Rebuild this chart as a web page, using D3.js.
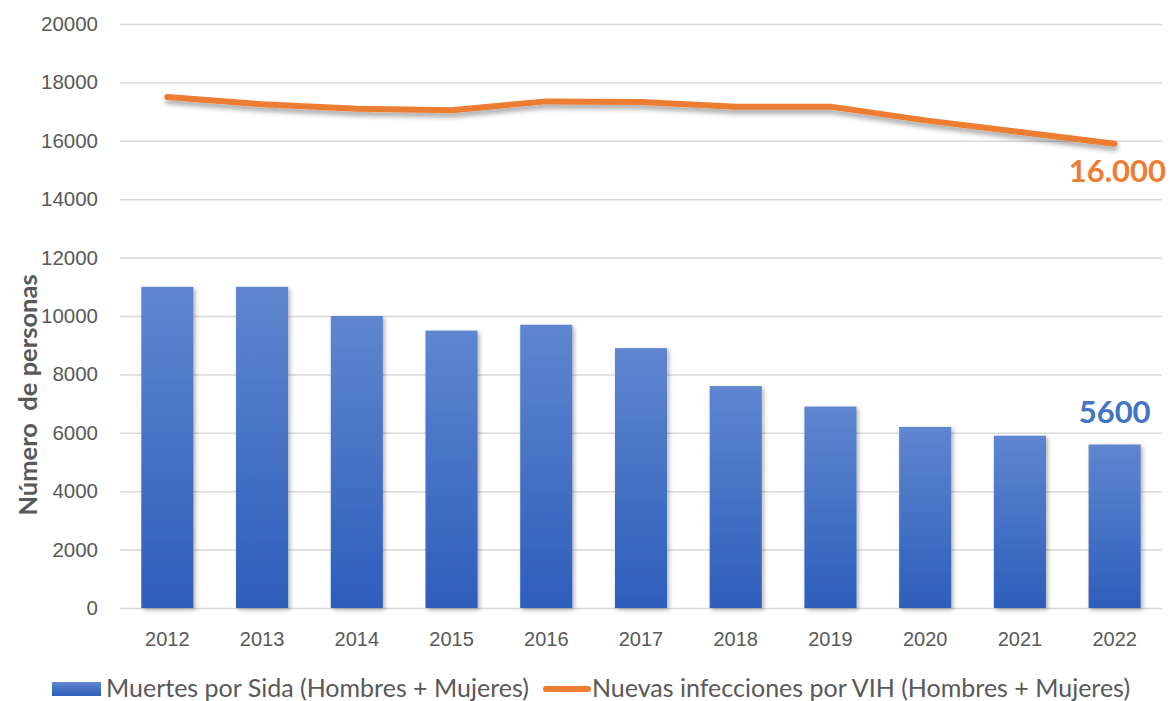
<!DOCTYPE html>
<html>
<head>
<meta charset="utf-8">
<script src="https://cdn.jsdelivr.net/npm/d3@7"></script>
<style>
  body { margin: 0; background: #fff; overflow: hidden; }
  svg { display: block; font-family: Lato, "Open Sans", sans-serif; }
</style>
</head>
<body>
<svg id="canvas" width="1171" height="701"></svg>
<script>
// data
var years = ['2012', '2013', '2014', '2015', '2016', '2017', '2018', '2019', '2020', '2021', '2022'];
var deaths = [11000, 11000, 10000, 9500, 9700, 8900, 7600, 6900, 6200, 5900, 5600];
var infections = [17500, 17250, 17100, 17050, 17350, 17330, 17170, 17170, 16700, 16300, 15900];
var yTicks = [0, 2000, 4000, 6000, 8000, 10000, 12000, 14000, 16000, 18000, 20000];
var deathsName = 'Muertes por Sida (Hombres + Mujeres)';
var infectName = 'Nuevas infecciones por VIH (Hombres + Mujeres)';
var deathsLabel = '5600';
var infectLabel = '16.000';

var svg = d3.select('#canvas');
var margin = { left: 120, top: 24, right: 9, bottom: 93 };
var width = 1171, height = 701;
var innerWidth = width - margin.left - margin.right;
var innerHeight = height - margin.top - margin.bottom;

var x = d3.scaleBand().domain(years).range([0, innerWidth]).paddingInner(0.45).paddingOuter(0.225);
var y = d3.scaleLinear().domain([0, 20000]).range([innerHeight, 0]);

var defs = svg.append('defs');
var grad = defs.append('linearGradient').attr('id', 'barGrad')
  .attr('x1', 0).attr('y1', 0).attr('x2', 0).attr('y2', 1);
grad.append('stop').attr('offset', '0%').attr('stop-color', '#5f86cf');
grad.append('stop').attr('offset', '100%').attr('stop-color', '#2d5ebb');

var shadow = defs.append('filter').attr('id', 'shadow')
  .attr('x', '-20%').attr('y', '-20%').attr('width', '140%').attr('height', '140%');
shadow.append('feDropShadow').attr('dx', 2).attr('dy', 2).attr('stdDeviation', 2)
  .attr('flood-color', '#000').attr('flood-opacity', 0.3);

var lineShadow = defs.append('filter').attr('id', 'lineShadow')
  .attr('x', '-5%').attr('y', '-50%').attr('width', '110%').attr('height', '200%');
lineShadow.append('feDropShadow').attr('dx', 1).attr('dy', 4).attr('stdDeviation', 2.5)
  .attr('flood-color', '#000').attr('flood-opacity', 0.35);

var g = svg.append('g').attr('transform', 'translate(' + margin.left + ',' + margin.top + ')');

// grid (no labels, so drop the empty tick texts)
g.append('g').attr('class', 'yGrid')
  .call(d3.axisLeft(y).tickValues(yTicks).tickSize(-innerWidth).tickFormat(''))
  .call(function (s) { s.select('.domain').remove(); s.selectAll('text').remove(); })
  .selectAll('line').attr('stroke', '#d9d9d9').attr('stroke-width', 1.5);

// y axis labels
g.append('g').attr('class', 'yAxis')
  .call(d3.axisLeft(y).tickValues(yTicks).tickSize(0).tickPadding(22).tickFormat(d3.format('d')))
  .call(function (s) { s.select('.domain').remove(); })
  .selectAll('text').attr('fill', '#595959').style('font-size', '20.5px');

// x axis labels
g.append('g').attr('class', 'xAxis')
  .attr('transform', 'translate(0,' + innerHeight + ')')
  .call(d3.axisBottom(x).tickSize(0).tickPadding(24))
  .call(function (s) { s.select('.domain').remove(); })
  .selectAll('text').attr('fill', '#595959').style('font-size', '20px');

// bars
g.selectAll('rect.bar')
  .data(deaths)
  .enter()
  .append('rect')
  .attr('class', 'bar')
  .attr('x', function (d, i) { return x(years[i]); })
  .attr('y', function (d) { return y(d); })
  .attr('width', x.bandwidth())
  .attr('height', function (d) { return innerHeight - y(d); })
  .attr('fill', 'url(#barGrad)')
  .attr('filter', 'url(#shadow)');

// line
var line = d3.line()
  .x(function (d, i) { return x(years[i]) + x.bandwidth() / 2; })
  .y(function (d) { return y(d); });

g.append('path')
  .attr('d', line(infections))
  .attr('fill', 'none')
  .attr('stroke', '#ed7d31')
  .attr('stroke-width', 6)
  .attr('stroke-linecap', 'round')
  .attr('stroke-linejoin', 'round')
  .attr('filter', 'url(#lineShadow)');

// value labels
var last = years.length - 1;
g.append('text')
  .attr('x', innerWidth + 4)
  .attr('y', y(infections[last]) + 38)
  .attr('text-anchor', 'end')
  .attr('fill', '#ed7d31')
  .style('font-size', '31px')
  .style('font-weight', 'bold')
  .text(infectLabel);

g.append('text')
  .attr('x', x(years[last]) + x.bandwidth() / 2)
  .attr('y', y(deaths[last]) - 21)
  .attr('text-anchor', 'middle')
  .attr('fill', '#4472c4')
  .style('font-size', '31px')
  .style('font-weight', 'bold')
  .text(deathsLabel);

// y title
svg.append('text')
  .attr('transform', 'translate(37,' + (margin.top + innerHeight / 2 + 79) + ') rotate(-90)')
  .attr('text-anchor', 'middle')
  .attr('fill', '#595959')
  .style('font-size', '25.5px')
  .style('font-weight', 'bold')
  .style('white-space', 'pre')
  .text('Número  de personas');

// legend
var legend = svg.append('g').attr('transform', 'translate(0,689)');
legend.append('rect')
  .attr('x', 52).attr('y', -7).attr('width', 49).attr('height', 14)
  .attr('fill', 'url(#barGrad)');
legend.append('text')
  .attr('x', 106).attr('y', 8)
  .attr('fill', '#595959').style('font-size', '25px')
  .text(deathsName);
legend.append('line')
  .attr('x1', 546).attr('x2', 588).attr('y1', 0).attr('y2', 0)
  .attr('stroke', '#ed7d31').attr('stroke-width', 6).attr('stroke-linecap', 'round');
legend.append('text')
  .attr('x', 592).attr('y', 8)
  .attr('fill', '#595959').style('font-size', '25px')
  .text(infectName);
</script>
</body>
</html>
